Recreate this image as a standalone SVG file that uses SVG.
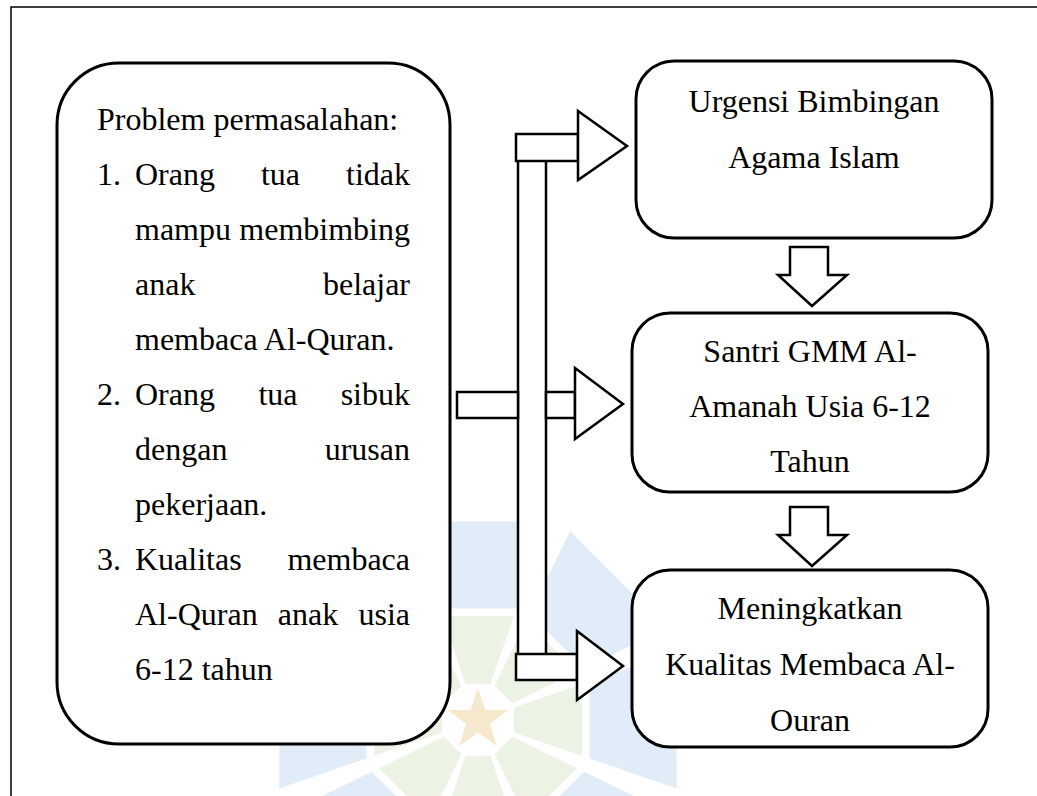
<svg xmlns="http://www.w3.org/2000/svg" width="1037" height="796" viewBox="0 0 1037 796">
<style>
 .t{font-family:"Liberation Serif","Times New Roman",serif;font-size:32px;fill:#000}
 .c{text-anchor:middle}
 .e{text-anchor:end}
 .box{fill:#fff;stroke:#000;stroke-width:3}
 .arr{fill:#fff;stroke:#000;stroke-width:2.5;stroke-linejoin:miter}
 .ln{fill:none;stroke:#000;stroke-width:2.5}
 .frame{fill:none;stroke:#000;stroke-width:1.5}
</style>
<defs>
 <g id="petal">
  <polygon points="465.6,684.1 490.4,684.1 513.8,616 442.2,616" fill="#ecf3e5"/>
  <polygon points="439.6,608.4 516.4,608.4 546.4,521.4 409.6,521.4" fill="#e0ecf7"/>
 </g>
</defs>
<g id="watermark">
 <use href="#petal"/>
 <use href="#petal" transform="rotate(45 478 720)"/>
 <use href="#petal" transform="rotate(90 478 720)"/>
 <use href="#petal" transform="rotate(135 478 720)"/>
 <use href="#petal" transform="rotate(180 478 720)"/>
 <use href="#petal" transform="rotate(225 478 720)"/>
 <use href="#petal" transform="rotate(270 478 720)"/>
 <use href="#petal" transform="rotate(315 478 720)"/>
 <polygon points="478,688 485.3,709.9 508.4,710.1 489.8,723.8 496.8,745.9 478,732.4 459.2,745.9 466.2,723.8 447.6,710.1 470.7,709.9" fill="#f6e8cc"/>
</g>
<g id="frame"><path class="frame" d="M11,796 V7 H1037"/></g>
<g id="connectors">
 <rect x="518" y="161" width="28" height="493" fill="#fff"/>
 <line class="ln" x1="518" y1="161" x2="518" y2="654"/>
 <line class="ln" x1="546" y1="161" x2="546" y2="654"/>
 <rect class="arr" x="516" y="134" width="62" height="27"/>
 <polygon class="arr" points="578,111 627,146 578,180"/>
 <rect class="arr" x="457" y="392" width="61" height="26"/>
 <rect class="arr" x="546" y="392" width="29" height="26"/>
 <polygon class="arr" points="575,368 623,404 575,439"/>
 <rect class="arr" x="516" y="654" width="61" height="26"/>
 <polygon class="arr" points="577,631 623,666 577,700"/>
 <polygon class="arr" points="790,247 828,247 828,275 847,275 812,306 778,275 790,275"/>
 <polygon class="arr" points="790,507 828,507 828,535 847,535 812,566 778,535 790,535"/>
</g>
<g id="problem">
 <rect class="box" x="57" y="63" width="393" height="681" rx="62" ry="62"/>
 <text class="t" x="97" y="130">Problem permasalahan:</text>
 <text class="t" x="97" y="185">1.</text>
 <text class="t" x="135" y="185">Orang</text>
 <text class="t c" x="280.5" y="185">tua</text>
 <text class="t e" x="410" y="185">tidak</text>
 <text class="t" x="135" y="240">mampu</text>
 <text class="t e" x="410" y="240">membimbing</text>
 <text class="t" x="135" y="295">anak</text>
 <text class="t e" x="410" y="295">belajar</text>
 <text class="t" x="135" y="350">membaca Al-Quran.</text>
 <text class="t" x="97" y="405">2.</text>
 <text class="t" x="135" y="405">Orang</text>
 <text class="t c" x="278" y="405">tua</text>
 <text class="t e" x="410" y="405">sibuk</text>
 <text class="t" x="135" y="460">dengan</text>
 <text class="t e" x="410" y="460">urusan</text>
 <text class="t" x="135" y="515">pekerjaan.</text>
 <text class="t" x="97" y="570">3.</text>
 <text class="t" x="135" y="570">Kualitas</text>
 <text class="t e" x="410" y="570">membaca</text>
 <text class="t" x="135" y="625">Al-Quran</text>
 <text class="t c" x="308" y="625">anak</text>
 <text class="t e" x="410" y="625">usia</text>
 <text class="t" x="135" y="680">6-12 tahun</text>
</g>
<g id="urgensi">
 <rect class="box" x="636" y="61" width="356" height="177" rx="38" ry="38"/>
 <text class="t c" x="814" y="112">Urgensi Bimbingan</text>
 <text class="t c" x="814" y="168">Agama Islam</text>
</g>
<g id="santri">
 <rect class="box" x="632" y="313" width="356" height="179" rx="38" ry="38"/>
 <text class="t c" x="810" y="362">Santri GMM Al-</text>
 <text class="t c" x="810" y="417">Amanah Usia 6-12</text>
 <text class="t c" x="810" y="472">Tahun</text>
</g>
<g id="meningkatkan">
 <rect class="box" x="632" y="570" width="356" height="177" rx="38" ry="38"/>
 <text class="t c" x="810" y="619">Meningkatkan</text>
 <text class="t c" x="810" y="675">Kualitas Membaca Al-</text>
 <text class="t c" x="810" y="731">Ouran</text>
</g>
</svg>
